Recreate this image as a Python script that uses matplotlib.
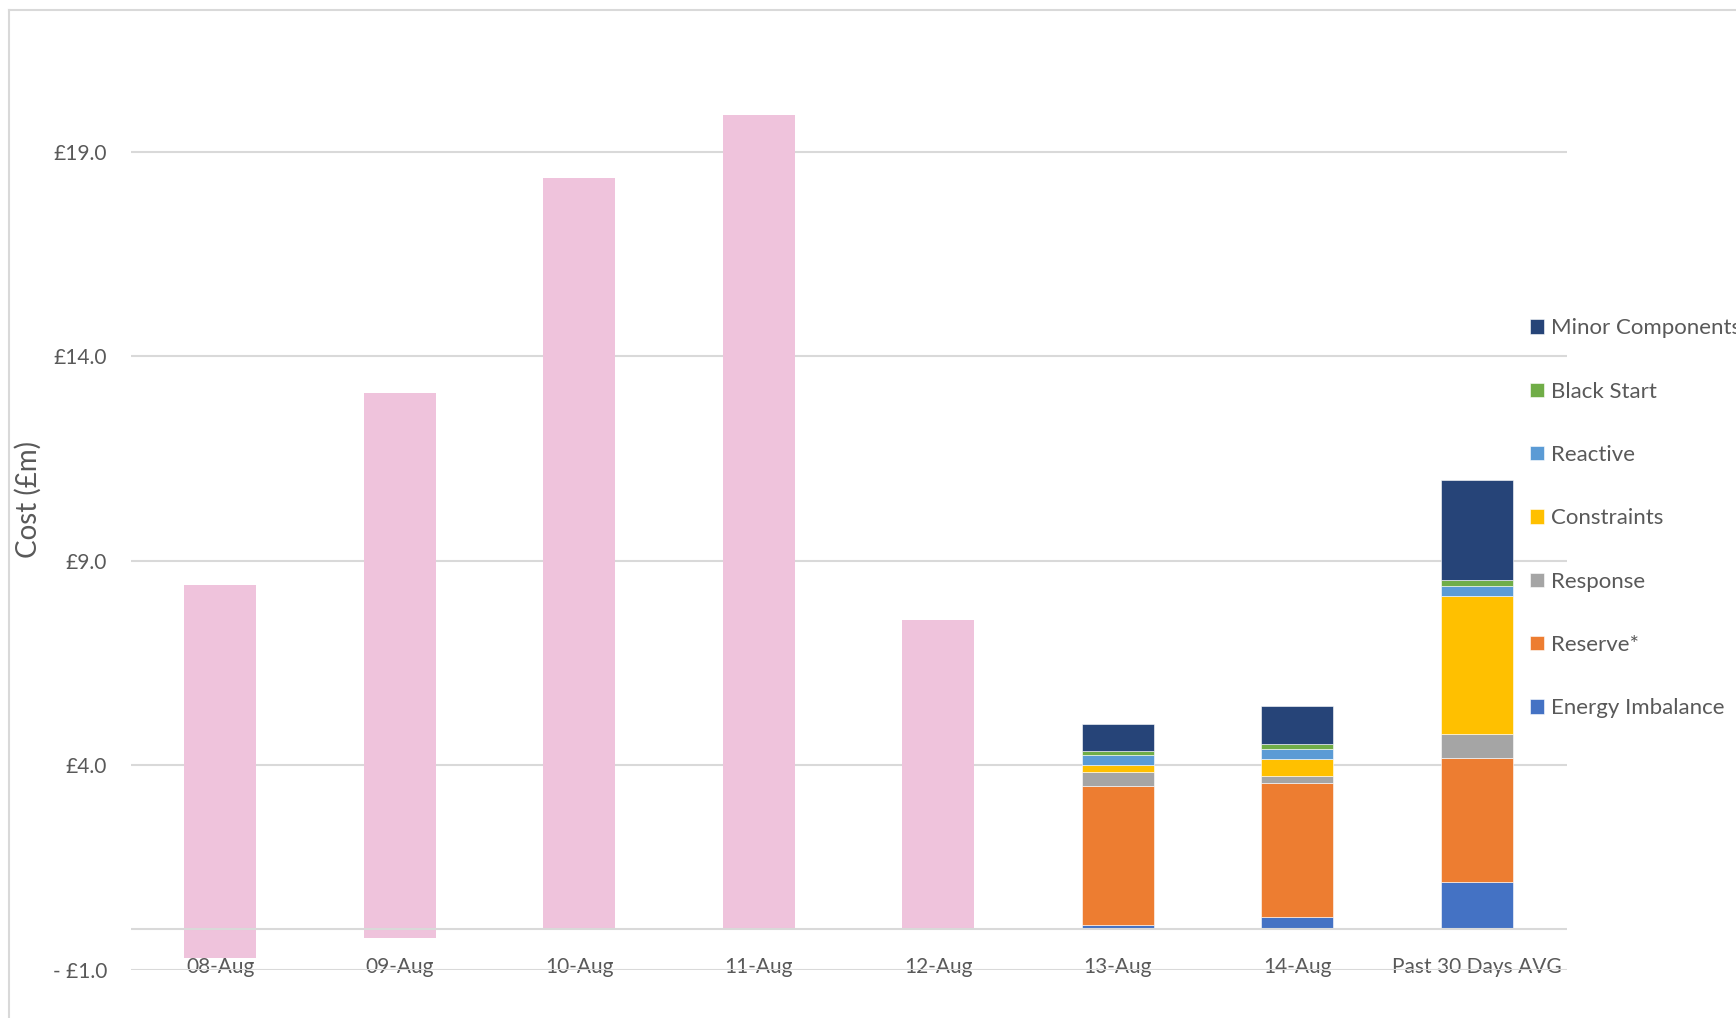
import matplotlib.pyplot as plt
import numpy as np

plt.rcParams['font.family'] = ['Lato', 'DejaVu Sans']

# categories
days = ["08-Aug", "09-Aug", "10-Aug", "11-Aug", "12-Aug", "13-Aug", "14-Aug", "Past 30 Days AVG"]

# earlier days shown as a single pink total (with small negative part)
pink_pos = [8.40, 13.10, 18.36, 19.89, 7.54]
pink_neg = [-0.71, -0.23, 0.0, 0.0, 0.0]

# breakdown for 13-Aug, 14-Aug and the 30 day average (£m)
energy_imbalance = [0.10, 0.28, 1.14]
reserve = [3.40, 3.28, 3.03]
response = [0.33, 0.18, 0.59]
constraints = [0.17, 0.42, 3.39]
reactive = [0.24, 0.23, 0.24]
black_start = [0.12, 0.13, 0.15]
minor_components = [0.64, 0.93, 2.43]

y_ticks = [-1, 4, 9, 14, 19]

grid_col = '#d9d9d9'
txt_col = '#595959'

fig = plt.figure(figsize=(17.36, 10.18), dpi=100)
ax = fig.add_axes([0.0752, 0.0474, 0.8272, 0.924])

x = np.arange(len(days))
w = 0.4

ax.bar(x[:5], pink_pos, width=w, color='#efc3dc', zorder=2)
ax.bar(x[:5], pink_neg, width=w, color='#efc3dc', zorder=2)

series = [
    ("Energy Imbalance", energy_imbalance, '#4472c4'),
    ("Reserve*", reserve, '#ed7d31'),
    ("Response", response, '#a5a5a5'),
    ("Constraints", constraints, '#ffc000'),
    ("Reactive", reactive, '#5b9bd5'),
    ("Black Start", black_start, '#70ad47'),
    ("Minor Components", minor_components, '#264478'),
]
bottom = np.zeros(3)
handles = []
for name, vals, col in series:
    b = ax.bar(x[5:], vals, width=w, bottom=bottom, color=col, label=name,
               edgecolor='white', linewidth=0.4, zorder=2)
    handles.append(b)
    bottom += np.array(vals)

ax.set_xlim(-0.5, 7.5)
ax.set_ylim(-1, 22)
ax.set_yticks(y_ticks)
ax.set_yticklabels([("- £%.1f" % abs(v)) if v < 0 else ("£%.1f" % v) for v in y_ticks])
ax.yaxis.grid(True, color=grid_col, linewidth=1.5)
ax.set_axisbelow(True)
ax.axhline(0, color=grid_col, linewidth=1.5, zorder=3)
for s in ax.spines.values():
    s.set_visible(False)

ax.set_xticks(x)
ax.set_xticklabels(days)
ax.tick_params(axis='x', length=0, pad=-9, labelsize=15, labelcolor=txt_col)
ax.tick_params(axis='y', length=0, pad=17, labelsize=15, labelcolor=txt_col)

ax.set_ylabel("Cost (£m)", fontsize=20, color=txt_col)
ax.yaxis.set_label_coords(-0.062, 0.5)

leg = fig.legend(handles[::-1], [s[0] for s in series][::-1],
                 loc='upper left', bbox_to_anchor=(0.8813, 0.6873),
                 frameon=False, fontsize=16, labelcolor=txt_col,
                 handlelength=0.63, handleheight=0.63, handletextpad=0.3,
                 labelspacing=1.95, borderpad=0, borderaxespad=0)

# chart border
fig.add_artist(plt.Line2D([9 / 1736, 9 / 1736], [0, 1 - 10 / 1018], color=grid_col, linewidth=1.5))
fig.add_artist(plt.Line2D([9 / 1736, 1], [1 - 10 / 1018, 1 - 10 / 1018], color=grid_col, linewidth=1.5))

fig.savefig("out.png", dpi=100)
